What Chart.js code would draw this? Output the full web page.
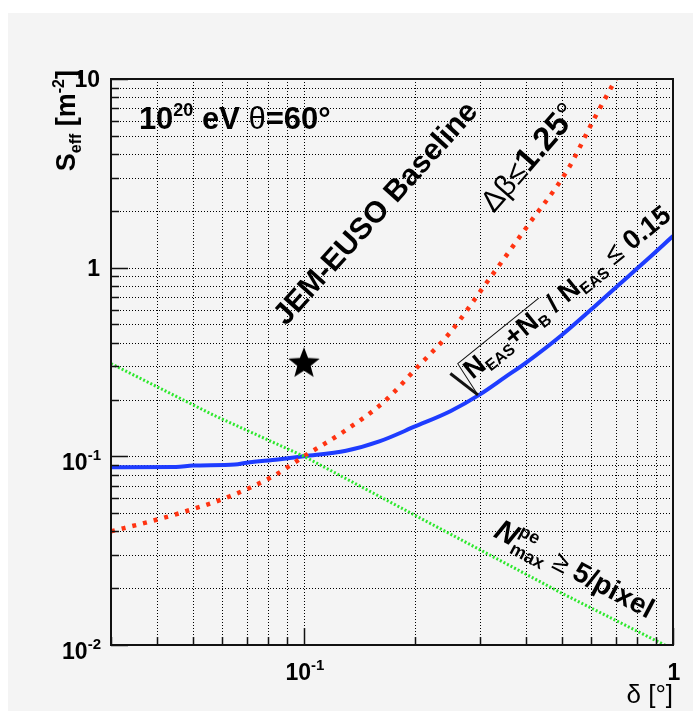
<!DOCTYPE html>
<html>
<head>
<meta charset="utf-8">
<script src="https://cdn.jsdelivr.net/npm/chart.js@4.4.0/dist/chart.umd.min.js"></script>
<style>
  html, body { margin: 0; padding: 0; background: #fff; }
  canvas { display: block; }
</style>
</head>
<body>
<canvas id="chart" width="693" height="711"></canvas>
<script>
'use strict';

//
// S_eff vs delta, log-log
//

// blue: sqrt(N_EAS+N_B)/N_EAS <= 0.15
var blueX = [0.03, 0.045, 0.05, 0.065, 0.07, 0.085, 0.1, 0.13, 0.16, 0.2, 0.25, 0.3, 0.35, 0.4, 0.5, 0.6, 0.7, 0.85, 1.0];
var blueY = [0.0875, 0.0878, 0.0893, 0.0905, 0.0925, 0.0962, 0.1, 0.107, 0.12, 0.144, 0.174, 0.213, 0.262, 0.314, 0.44, 0.6, 0.786, 1.10, 1.47];

// red: delta beta <= 1.25 deg
var redX = [0.03, 0.0385, 0.047, 0.063, 0.083, 0.1, 0.128, 0.165, 0.204, 0.25, 0.308, 0.404, 0.52, 0.61, 0.70];
var redY = [0.040, 0.0453, 0.0506, 0.0614, 0.079, 0.1, 0.135, 0.195, 0.30, 0.458, 0.80, 1.67, 3.34, 6.1, 10.0];

// green: N_max^pe >= 5/pixel
var greenX = [0.03, 0.057, 0.1, 0.5, 1.0];
var greenY = [0.31, 0.165, 0.1, 0.0188, 0.0095];

// JEM-EUSO baseline point
var starX = [0.1];
var starY = [0.31];

// axes
var xGridValues = [0.03, 0.04, 0.05, 0.06, 0.07, 0.08, 0.09, 0.1, 0.2, 0.3, 0.4, 0.5, 0.6, 0.7, 0.8, 0.9, 1];
var yGridValues = [0.01, 0.02, 0.03, 0.04, 0.05, 0.06, 0.07, 0.08, 0.09,
                   0.1, 0.2, 0.3, 0.4, 0.5, 0.6, 0.7, 0.8, 0.9,
                   1, 2, 3, 4, 5, 6, 7, 8, 9, 10];
var xMajorValues = [0.1, 1];
var yMajorValues = [0.01, 0.1, 1, 10];

var xLabelValues = [0.1, 1];
var xLabelBase = ['10', '1'];
var xLabelExp = ['-1', ''];
var yLabelValues = [10, 1, 0.1, 0.01];
var yLabelBase = ['10', '1', '10', '10'];
var yLabelExp = ['', '', '-1', '-2'];

function pts(xs, ys) {
  return xs.map(function(x, i) { return {x: x, y: ys[i]}; });
}

var FAM = '"Liberation Sans", Arial, sans-serif';
function B(s) { return 'bold ' + s + 'px ' + FAM; }
function R(s) { return s + 'px ' + FAM; }
function BI(s) { return 'italic bold ' + s + 'px ' + FAM; }

function makeStar(size) {
  var c = document.createElement('canvas');
  c.width = size; c.height = size;
  var g = c.getContext('2d');
  g.fillStyle = '#000';
  g.beginPath();
  for (var i = 0; i < 10; i++) {
    var r = i % 2 === 0 ? 16.5 : 7;
    var a = -Math.PI / 2 + i * Math.PI / 5;
    g.lineTo(size / 2 + r * Math.cos(a), size / 2 + r * Math.sin(a));
  }
  g.closePath();
  g.fill();
  return c;
}

// draw a run of text pieces along a (rotated) baseline
function drawRuns(ctx, x, y, ang, parts, align) {
  ctx.save();
  ctx.translate(x, y);
  ctx.rotate(ang * Math.PI / 180);
  ctx.textBaseline = 'alphabetic';
  ctx.textAlign = 'left';
  var total = 0;
  parts.forEach(function(p) {
    ctx.font = p.f;
    if (!p.keep) total += ctx.measureText(p.t).width;
  });
  var cx = align === 'right' ? -total : (align === 'center' ? -total / 2 : 0);
  parts.forEach(function(p) {
    ctx.font = p.f;
    ctx.fillText(p.t, cx, p.dy || 0);
    if (!p.keep) cx += ctx.measureText(p.t).width;
  });
  ctx.restore();
  return total;
}

var bgPlugin = {
  id: 'bg',
  beforeDraw: function(chart) {
    var ctx = chart.ctx;
    ctx.save();
    ctx.fillStyle = '#f4f4f4';
    ctx.fillRect(8, 13, chart.width - 8, chart.height - 13);
    ctx.restore();
  },
  // dotted grid on every decade subdivision
  beforeDatasetsDraw: function(chart) {
    var ctx = chart.ctx;
    var a = chart.chartArea;
    var xs = chart.scales.x, ys = chart.scales.y;
    ctx.save();
    ctx.strokeStyle = '#000';
    ctx.lineWidth = 1;
    ctx.setLineDash([1, 2]);
    ctx.beginPath();
    xGridValues.forEach(function(v) {
      var p = Math.round(xs.getPixelForValue(v)) + 0.5;
      ctx.moveTo(p, a.top); ctx.lineTo(p, a.bottom);
    });
    yGridValues.forEach(function(v) {
      var p = Math.round(ys.getPixelForValue(v)) + 0.5;
      ctx.moveTo(a.left, p); ctx.lineTo(a.right, p);
    });
    ctx.stroke();
    ctx.restore();
  }
};

var framePlugin = {
  id: 'frame',
  afterDatasetsDraw: function(chart) {
    var ctx = chart.ctx;
    var a = chart.chartArea;
    var xs = chart.scales.x, ys = chart.scales.y;
    ctx.save();
    ctx.fillStyle = '#000';
    ctx.strokeStyle = '#111';

    // frame
    ctx.lineWidth = 2;
    ctx.strokeRect(a.left, a.top, a.right - a.left, a.bottom - a.top);

    // ticks, pointing inward
    ctx.lineWidth = 1.5;
    ctx.beginPath();
    yGridValues.forEach(function(v) {
      var p = Math.round(ys.getPixelForValue(v)) + 0.5;
      var len = yMajorValues.indexOf(v) >= 0 ? 17 : 8;
      ctx.moveTo(a.left, p); ctx.lineTo(a.left + len, p);
    });
    xGridValues.forEach(function(v) {
      var p = Math.round(xs.getPixelForValue(v)) + 0.5;
      var len = xMajorValues.indexOf(v) >= 0 ? 17 : 8;
      ctx.moveTo(p, a.bottom); ctx.lineTo(p, a.bottom - len);
    });
    ctx.stroke();

    // y tick labels
    yLabelValues.forEach(function(v, i) {
      var p = ys.getPixelForValue(v);
      if (yLabelExp[i]) {
        drawRuns(ctx, a.left - 10, p + 14, 0, [
          {t: yLabelBase[i], f: B(23)},
          {t: yLabelExp[i], f: B(15), dy: -10}
        ], 'right');
      } else {
        drawRuns(ctx, a.left - 11, p + 8, 0, [{t: yLabelBase[i], f: B(23)}], 'right');
      }
    });

    // x tick labels
    xLabelValues.forEach(function(v, i) {
      var p = xs.getPixelForValue(v);
      var parts = [{t: xLabelBase[i], f: B(23)}];
      if (xLabelExp[i]) parts.push({t: xLabelExp[i], f: B(15), dy: -10});
      drawRuns(ctx, p + 1, a.bottom + 35, 0, parts, 'center');
    });

    // axis titles
    drawRuns(ctx, a.right, a.bottom + 58, 0, [{t: '\u03b4 [\u00b0]', f: R(26)}], 'right');
    drawRuns(ctx, a.left - 36, a.top - 9, -90, [
      {t: 'S', f: B(27)},
      {t: 'eff', f: B(16), dy: 6},
      {t: ' [m', f: B(27)},
      {t: '-2', f: B(16), dy: -11},
      {t: ']', f: B(27)}
    ], 'right');

    // annotations
    drawRuns(ctx, xs.getPixelForValue(0.0357), ys.getPixelForValue(5.43), 0, [
      {t: '10', f: B(31)},
      {t: '20', f: B(18), dy: -13},
      {t: ' eV ', f: B(31)},
      {t: '\u03b8', f: R(31)},
      {t: '=60\u00b0', f: B(31)}
    ]);

    drawRuns(ctx, xs.getPixelForValue(0.0894), ys.getPixelForValue(0.487), -48, [
      {t: 'JEM-EUSO Baseline', f: B(30)}
    ]);

    drawRuns(ctx, xs.getPixelForValue(0.327), ys.getPixelForValue(1.93), -49, [
      {t: '\u0394\u03b2\u2264', f: R(30)},
      {t: '1.25', f: B(33)},
      {t: '\u00b0', f: R(33)}
    ]);

    // sqrt(N_EAS+N_B) / N_EAS <= 0.15
    var ox = xs.getPixelForValue(0.286), oy = ys.getPixelForValue(0.2535);
    var rad = [
      {t: 'N', f: B(27)},
      {t: 'EAS', f: B(16), dy: 5},
      {t: '+N', f: B(27)},
      {t: 'B', f: B(16), dy: 5}
    ];
    var rw = drawRuns(ctx, ox, oy, -39, rad);
    ctx.save();
    ctx.translate(ox, oy);
    ctx.rotate(-39 * Math.PI / 180);
    ctx.fillStyle = '#000';
    ctx.beginPath();
    ctx.lineWidth = 3;
    ctx.moveTo(-13, -19); ctx.lineTo(-5, 15);
    ctx.stroke();
    ctx.beginPath();
    ctx.lineWidth = 1;
    ctx.moveTo(-5, 15); ctx.lineTo(-1, -22); ctx.lineTo(rw + 4, -22);
    ctx.stroke();
    drawRuns(ctx, rw, 0, 0, [
      {t: ' / N', f: B(27)},
      {t: 'EAS', f: B(16), dy: 5},
      {t: ' \u2264 ', f: R(28)},
      {t: '0.15', f: B(27)}
    ]);
    ctx.restore();

    drawRuns(ctx, xs.getPixelForValue(0.3245), ys.getPixelForValue(0.0377), 28, [
      {t: 'N', f: BI(30)},
      {t: 'pe', f: B(18), dy: -13, keep: true},
      {t: 'max', f: B(18), dy: 7},
      {t: ' \u2265 ', f: R(28)},
      {t: '5/pixel', f: B(28)}
    ]);

    ctx.restore();
  }
};

var gridTicks = function(values) {
  return function(scale) {
    scale.ticks = values.map(function(v) { return {value: v}; });
  };
};

var ctx = document.getElementById('chart').getContext('2d');
var chart = new Chart(ctx, {
  type: 'scatter',
  data: {
    datasets: [{
      label: 'green',
      data: pts(greenX, greenY),
      showLine: true,
      borderColor: '#2ee82e',
      borderWidth: 3,
      borderDash: [2, 2],
      pointRadius: 0,
      clip: 0
    }, {
      label: 'red',
      data: pts(redX, redY),
      showLine: true,
      borderColor: '#ff3311',
      borderWidth: 4.5,
      borderDash: [4, 7],
      cubicInterpolationMode: 'monotone',
      pointRadius: 0,
      clip: 0
    }, {
      label: 'blue',
      data: pts(blueX, blueY),
      showLine: true,
      borderColor: '#1e3cff',
      borderWidth: 4,
      cubicInterpolationMode: 'monotone',
      pointRadius: 0,
      clip: 0
    }, {
      label: 'baseline',
      data: pts(starX, starY),
      pointStyle: makeStar(36),
      pointRadius: 18
    }]
  },
  options: {
    responsive: false,
    animation: false,
    layout: { padding: { left: 111, top: 79, right: 20, bottom: 66 } },
    plugins: { legend: { display: false }, tooltip: { enabled: false } },
    scales: {
      x: {
        type: 'logarithmic',
        min: 0.03, max: 1,
        afterBuildTicks: gridTicks(xGridValues),
        ticks: { display: false },
        grid: { display: false, drawTicks: false },
        border: { display: false }
      },
      y: {
        type: 'logarithmic',
        min: 0.01, max: 10,
        afterBuildTicks: gridTicks(yGridValues),
        ticks: { display: false },
        grid: { display: false, drawTicks: false },
        border: { display: false }
      }
    }
  },
  plugins: [bgPlugin, framePlugin]
});
</script>
</body>
</html>
